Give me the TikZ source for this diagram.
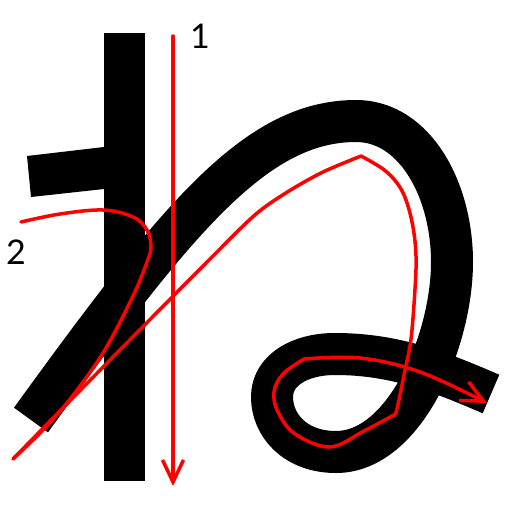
\documentclass[tikz,border=0pt]{standalone}
\usepackage{fontspec}
\setmainfont{Lato}
\usetikzlibrary{arrows.meta}
\begin{document}
\begin{tikzpicture}[x=1pt,y=-1pt,
  inkstroke/.style={line width=42pt,line cap=butt,line join=round,black},
  redpath/.style={line width=3.5pt,red,line join=round,line cap=round},
  redtip/.style={-{Straight Barb[length=22pt,width=21pt,line cap=butt]}},
  numlabel/.style={inner sep=0pt,font=\fontsize{34}{34}\selectfont}]
\useasboundingbox (0,0) rectangle (512,512);
% black strokes
\fill[black] (104,33) rectangle (145,481);
\fill[black] (27,156) -- (104,147) -- (104,189) -- (31,197) -- cycle;
\draw[inkstroke] (31,420) .. controls (178,217) and (256,121) .. (356,121)
  .. controls (415,121) and (452,190) .. (452,262)
  .. controls (452,340) and (405,452) .. (336,452)
  .. controls (295,452) and (272,425) .. (272,397)
  .. controls (272,370) and (300,354) .. (335,354)
  .. controls (395,354) and (440,372) .. (491,394);
% red stroke-order guides
\coordinate (s1) at (173,36);
\coordinate (e1) at (173,486);
\draw[redpath,redtip] (s1) -- (e1);
\draw[redpath] plot[smooth,tension=0.6] coordinates {(21,222) (60,214) (103,210) (133,217) (147,230) (151,247) (147,262) (133,296) (103,353) (67,403) (40,433) (13,459)};
\draw[redpath] plot[smooth,tension=0.5] coordinates {(13,459) (110,360) (213,256) (256,214) (289,191) (323,172) (361,156)};
\draw[redpath] plot[smooth,tension=0.6] coordinates {(361,156) (383,169) (397,183) (406,200) (413,227) (416,256) (415,289) (411,339) (405,370) (397,409) (394,415)};
\draw[redpath] plot[smooth,tension=0.6] coordinates {(394,415) (364,431) (330,447) (295,434) (278,412) (274,392) (283,374) (304,359)};
\draw[redpath,redtip] plot[smooth,tension=0.6] coordinates {(304,359) (360,358) (420,372) (487,403)};
% labels
\node[numlabel] (l1) at (200,36) {1};
\node[numlabel] (l2) at (16,252) {2};
\end{tikzpicture}
\end{document}
